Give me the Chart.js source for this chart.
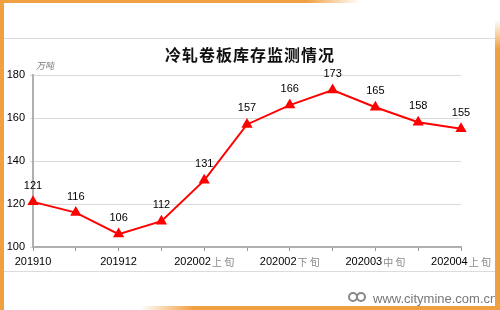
<!DOCTYPE html>
<html>
<head>
<meta charset="utf-8">
<script src="https://cdn.jsdelivr.net/npm/chart.js@4"></script>
<style>
  html, body { margin: 0; padding: 0; background: #fff; }
  #wrap { position: relative; width: 500px; height: 310px; overflow: hidden; background: #fff; }
  #wrap canvas { position: absolute; left: 0; top: 0; }
  .bar { position: absolute; }
  .rule { position: absolute; left: 3px; width: 492px; height: 1px; background: #dcdcdc; }
  #title { position: absolute; left: 0; width: 500px; top: 42px; text-align: center;
           font: bold 16px "Noto Sans CJK SC", sans-serif; color: #111; letter-spacing: 1px; }
  #unit { position: absolute; left: 36px; top: 59px; font: italic 9px "Noto Sans CJK SC", sans-serif; color: #777; }
  #mark { position: absolute; left: 373px; top: 291px; font: 13px "Liberation Sans", Arial, sans-serif; color: #777; white-space: nowrap; }
  #logo { position: absolute; left: 348px; top: 292px; width: 18px; height: 12px; }
  #logo span { position: absolute; top: 0; width: 10px; height: 10px; border-radius: 50%; border: 2px solid #888; box-sizing: border-box; }
</style>
</head>
<body>
<div id="wrap">
  <canvas id="c" width="500" height="310"></canvas>
  <div class="rule" style="top:38px"></div>
  <div class="rule" style="top:271px"></div>
  <div id="title">冷轧卷板库存监测情况</div>
  <div id="unit">万吨</div>
  <div id="logo"><span style="left:0"></span><span style="left:8px"></span></div>
  <div id="mark">www.citymine.com.cn</div>
  <div class="bar" style="left:0;top:0;width:4px;height:310px;background:#f0a040"></div>
  <div class="bar" style="left:0;top:0;width:360px;height:3px;background:linear-gradient(to right,#f0a040 85%,rgba(240,160,64,0))"></div>
  <div class="bar" style="left:495px;top:20px;width:5px;height:290px;background:linear-gradient(to bottom,rgba(240,160,64,0),#f0a040 10%)"></div>
  <div class="bar" style="left:140px;top:306px;width:360px;height:4px;background:linear-gradient(to right,rgba(240,160,64,0),#f0a040 15%)"></div>
</div>
<script>
// categories: month part + optional ten-day suffix (every other one is labelled)
const periods = ['201910', '201911', '201912', '202001', '202002', '202002',
                 '202002', '202003', '202003', '202003', '202004'];
const suffixes = ['', '', '', '', '上旬', '中旬', '下旬', '上旬', '中旬', '下旬', '上旬'];
const stock = [121, 116, 106, 112, 131, 157, 166, 173, 165, 158, 155];
const yTicks = [100, 120, 140, 160, 180];

const FONT = '"Liberation Sans", Arial, sans-serif';

// value labels above each point
const valueLabels = {
    id: 'valueLabels',
    afterDatasetsDraw(chart) {
        const ctx = chart.ctx;
        const meta = chart.getDatasetMeta(0);
        ctx.save();
        ctx.font = '11px ' + FONT;
        ctx.fillStyle = '#000';
        ctx.textAlign = 'center';
        ctx.textBaseline = 'middle';
        meta.data.forEach((pt, i) => {
            ctx.fillText(String(stock[i]), pt.x, pt.y - 16);
        });
        ctx.restore();
    }
};

// x labels: black digits with a grey, spaced suffix
const xLabels = {
    id: 'xLabels',
    afterDraw(chart) {
        const ctx = chart.ctx;
        const xs = chart.scales.x;
        const y = xs.top + 15;
        ctx.save();
        ctx.textBaseline = 'middle';
        ctx.textAlign = 'left';
        periods.forEach((p, i) => {
            if (i % 2) return;
            const x = xs.getPixelForValue(i);
            ctx.font = '11px ' + FONT;
            const w1 = ctx.measureText(p).width;
            const suf = suffixes[i] ? suffixes[i].split('').join(' ') : '';
            ctx.font = '10px "Noto Sans CJK SC", sans-serif';
            const w2 = suf ? ctx.measureText(suf).width + 1 : 0;
            let left = x - (w1 + w2) / 2;
            ctx.font = '11px ' + FONT;
            ctx.fillStyle = '#000';
            ctx.fillText(p, left, y);
            if (suf) {
                ctx.font = '10px "Noto Sans CJK SC", sans-serif';
                ctx.fillStyle = '#888';
                ctx.fillText(suf, left + w1 + 1, y);
            }
        });
        ctx.restore();
    }
};

const ctx = document.getElementById('c').getContext('2d');
new Chart(ctx, {
    type: 'line',
    data: {
        labels: periods.map((p, i) => p + suffixes[i]),
        datasets: [{
            data: stock,
            borderColor: '#ff0000',
            backgroundColor: '#ff0000',
            borderWidth: 2,
            pointStyle: 'triangle',
            pointRadius: 4.5,
            tension: 0,
            fill: false
        }]
    },
    options: {
        responsive: false,
        animation: false,
        layout: { padding: { top: 75, right: 39, left: 0, bottom: 0 } },
        plugins: { legend: { display: false }, tooltip: { enabled: false } },
        scales: {
            x: {
                offset: false,
                afterFit: s => { s.height = 63; },
                grid: { drawOnChartArea: false, drawTicks: true, tickLength: 4, color: '#999' },
                border: { color: '#b0b0b0', width: 2 },
                ticks: { autoSkip: false, maxRotation: 0, callback: () => '' }
            },
            y: {
                min: 100, max: 180,
                afterFit: s => { s.width = 33; },
                afterBuildTicks: s => { s.ticks = yTicks.map(v => ({ value: v })); },
                grid: { color: '#d9d9d9', tickLength: 3, drawTicks: true },
                border: { color: '#b0b0b0', width: 2 },
                ticks: { padding: 5, color: '#000', font: { size: 11, family: FONT } }
            }
        }
    },
    plugins: [valueLabels, xLabels]
});
</script>
</body>
</html>
